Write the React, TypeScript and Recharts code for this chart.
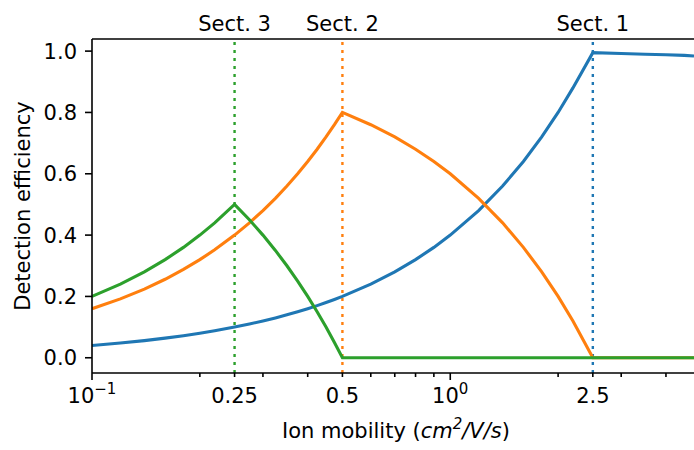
import { LineChart, Line, XAxis, YAxis, ReferenceLine, Label } from "recharts";

// ion mobility (cm^2/V/s), log axis
const mobility = [
  0.1, 0.12, 0.14, 0.16, 0.18, 0.2, 0.22, 0.25, 0.275, 0.3, 0.325, 0.35,
  0.375, 0.4, 0.425, 0.45, 0.475, 0.5, 0.6, 0.7, 0.8, 0.9, 1.0, 1.2, 1.4,
  1.6, 1.8, 2.0, 2.2, 2.5, 3.0, 3.5, 4.0, 4.5, 4.79,
];
const sect1 = [
  0.04, 0.048, 0.056, 0.064, 0.072, 0.08, 0.088, 0.1, 0.11, 0.12, 0.13, 0.14,
  0.15, 0.16, 0.17, 0.18, 0.19, 0.2, 0.24, 0.28, 0.32, 0.36, 0.4, 0.48, 0.56,
  0.64, 0.72, 0.8, 0.88, 0.995, 0.992, 0.99, 0.988, 0.986, 0.984,
];
const sect2 = [
  0.16, 0.192, 0.224, 0.256, 0.288, 0.32, 0.352, 0.4, 0.44, 0.48, 0.52, 0.56,
  0.6, 0.64, 0.68, 0.72, 0.76, 0.8, 0.76, 0.72, 0.68, 0.64, 0.6, 0.52, 0.44,
  0.36, 0.28, 0.2, 0.12, 0, 0, 0, 0, 0, 0,
];
const sect3 = [
  0.2, 0.24, 0.28, 0.32, 0.36, 0.4, 0.44, 0.5, 0.45, 0.4, 0.35, 0.3, 0.25,
  0.2, 0.15, 0.1, 0.05, 0, 0, 0, 0, 0, 0, 0, 0, 0, 0, 0, 0, 0, 0, 0, 0, 0, 0,
];

const sectionEdges = [0.25, 0.5, 2.5];
const sectionNames = ["Sect. 3", "Sect. 2", "Sect. 1"];
const sectionColors = ["#2ca02c", "#ff7f0e", "#1f77b4"];

const xTicks = [
  0.1, 0.2, 0.25, 0.3, 0.4, 0.5, 0.6, 0.7, 0.8, 0.9, 1, 2, 2.5, 3, 4,
];
const majorTicks = [0.1, 1];
const labelTicks = [0.1, 0.25, 0.5, 1, 2.5];
const yTicks = [0, 0.2, 0.4, 0.6, 0.8, 1.0];

const data = mobility.map((x, i) => ({
  x,
  s1: sect1[i],
  s2: sect2[i],
  s3: sect3[i],
}));

const FONT = "DejaVu Sans, sans-serif";
const FS = 21;

function BottomTick(props: any) {
  const { x, y, payload } = props;
  const v = payload.value;
  const major = majorTicks.includes(v);
  let label: any = null;
  if (labelTicks.includes(v)) {
    if (major) {
      label = (
        <text x={x} y={y + 30} textAnchor="middle" fontFamily={FONT} fontSize={FS} fill="#000">
          10
          <tspan dy={-9} fontSize={15}>
            {v === 1 ? "0" : "\u22121"}
          </tspan>
        </text>
      );
    } else {
      label = (
        <text x={x} y={y + 30} textAnchor="middle" fontFamily={FONT} fontSize={FS} fill="#000">
          {String(v)}
        </text>
      );
    }
  }
  return (
    <g>
      <line x1={x} x2={x} y1={y} y2={y + (major ? 7 : 4)} stroke="#000" strokeWidth={1.6} />
      {label}
    </g>
  );
}

function TopTick(props: any) {
  const { x, y, payload } = props;
  const i = sectionEdges.indexOf(payload.value);
  return (
    <text x={x} y={y - 8.5} textAnchor="middle" fontFamily={FONT} fontSize={FS} fill="#000">
      {sectionNames[i]}
    </text>
  );
}

export default function App() {
  return (
    <div style={{ position: "absolute", left: 0, top: 0, background: "#fff" }}>
      <LineChart width={694} height={450} data={data} margin={{ top: 0, right: 0, bottom: 0, left: 0 }}>
        <XAxis
          dataKey="x"
          type="number"
          scale="log"
          domain={[0.1, 4.79]}
          allowDataOverflow
          ticks={xTicks}
          interval={0}
          height={77}
          tickSize={0}
          tickMargin={0}
          tickLine={false}
          axisLine={{ stroke: "#000", strokeWidth: 1.6 }}
          tick={<BottomTick />}
        >
          <Label
            content={() => (
              <text x={396} y={438} textAnchor="middle" fontFamily={FONT} fontSize={FS} fill="#000">
                Ion mobility (
                <tspan fontStyle="italic">cm</tspan>
                <tspan fontStyle="italic" dy={-9} fontSize={15}>2</tspan>
                <tspan fontStyle="italic" dy={9}>/V/s</tspan>)
              </text>
            )}
          />
        </XAxis>
        <XAxis
          xAxisId="top"
          dataKey="x"
          type="number"
          scale="log"
          orientation="top"
          domain={[0.1, 4.79]}
          allowDataOverflow
          ticks={sectionEdges}
          interval={0}
          height={39}
          tickSize={0}
          tickMargin={0}
          tickLine={false}
          axisLine={{ stroke: "#000", strokeWidth: 1.6 }}
          tick={<TopTick />}
        />
        <YAxis
          type="number"
          domain={[-0.0497, 1.0395]}
          allowDataOverflow
          ticks={yTicks}
          interval={0}
          width={92}
          tickSize={7}
          tickMargin={8}
          tickFormatter={(v: number) => v.toFixed(1)}
          tick={{ fontFamily: FONT, fontSize: FS, fill: "#000" }}
          tickLine={{ stroke: "#000", strokeWidth: 1.6 }}
          axisLine={{ stroke: "#000", strokeWidth: 1.6 }}
        >
          <Label
            content={() => (
              <text
                x={30}
                y={206}
                transform="rotate(-90 30 206)"
                textAnchor="middle"
                fontFamily={FONT}
                fontSize={FS}
                fill="#000"
              >
                Detection efficiency
              </text>
            )}
          />
        </YAxis>
        {sectionEdges.map((e, i) => (
          <ReferenceLine
            key={e}
            x={e}
            stroke={sectionColors[i]}
            strokeWidth={2.4}
            strokeDasharray="3 5"
          />
        ))}
        <Line dataKey="s1" type="linear" stroke="#1f77b4" strokeWidth={3.1} dot={false} isAnimationActive={false} />
        <Line dataKey="s2" type="linear" stroke="#ff7f0e" strokeWidth={3.1} dot={false} isAnimationActive={false} />
        <Line dataKey="s3" type="linear" stroke="#2ca02c" strokeWidth={3.1} dot={false} isAnimationActive={false} />
      </LineChart>
    </div>
  );
}
